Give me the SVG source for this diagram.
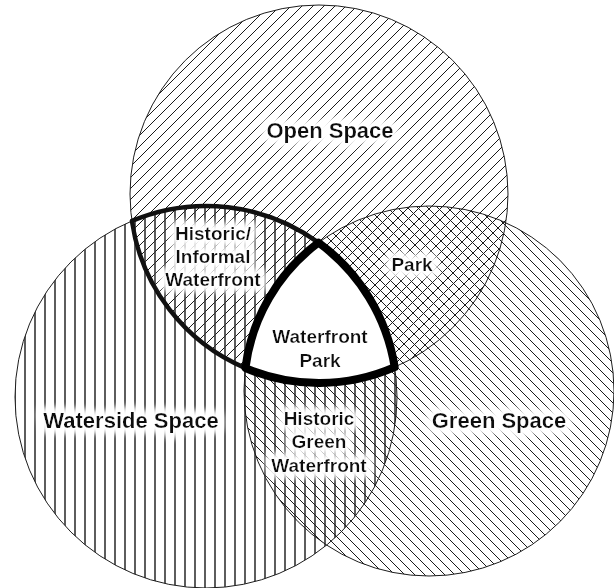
<svg xmlns="http://www.w3.org/2000/svg" width="614" height="588" viewBox="0 0 614 588">
  <defs>
    <!-- hatch fills for the three sets, tiles kept on whole pixels -->
    <pattern id="hatch-open" width="11" height="11" patternUnits="userSpaceOnUse">
      <path d="M0 11 L11 0 M-2 2 L2 -2 M9 13 L13 9" class="hl"/>
    </pattern>
    <pattern id="hatch-waterside" width="10" height="10" patternUnits="userSpaceOnUse">
      <line x1="5" y1="0" x2="5" y2="10" class="vl"/>
    </pattern>
    <pattern id="hatch-green" width="10" height="10" patternUnits="userSpaceOnUse">
      <path d="M0 0 L10 10 M-2 8 L2 12 M8 -2 L12 2" class="hl"/>
    </pattern>
    <!-- soft white halo behind labels -->
    <filter id="halo" x="-30%" y="-60%" width="160%" height="220%">
      <feMorphology in="SourceAlpha" operator="dilate" radius="3.5" result="d"/>
      <feGaussianBlur in="d" stdDeviation="3.5" result="b"/>
      <feFlood flood-color="#ffffff"/>
      <feComposite in2="b" operator="in" result="w"/>
      <feMerge>
        <feMergeNode in="w"/>
        <feMergeNode in="w"/>
        <feMergeNode in="SourceGraphic"/>
      </feMerge>
    </filter>
  </defs>
  <style>
    .hl { stroke: #1a1a1a; stroke-width: 1; fill: none; }
    .vl { stroke: #333333; stroke-width: 1.6; }
    .set { stroke: #1e1e1e; stroke-width: 1; }
    .big { font-family: "Liberation Sans", Arial, sans-serif; font-weight: bold; font-size: 22px; fill: #111; text-anchor: middle; filter: url(#halo); }
    .small { font-family: "Liberation Sans", Arial, sans-serif; font-weight: bold; font-size: 19px; fill: #111; text-anchor: middle; filter: url(#halo); }
  </style>

  <rect width="614" height="588" fill="#ffffff"/>

  <g id="open-space">
    <circle class="set" cx="319" cy="194" r="189" fill="url(#hatch-open)"/>
    <text class="big" x="330" y="138">Open Space</text>
  </g>

  <g id="waterside-space">
    <circle class="set" cx="206" cy="397" r="191" fill="url(#hatch-waterside)"/>
    <text class="big" x="131" y="428">Waterside Space</text>
  </g>

  <g id="green-space">
    <circle class="set" cx="429" cy="391" r="185" fill="url(#hatch-green)"/>
    <text class="big" x="499" y="428">Green Space</text>
  </g>

  <g id="historic-informal-waterfront">
    <path d="M131.93 220.94 A191 191 0 0 1 318.49 242.63 A185 185 0 0 0 245.43 368.08 A189 189 0 0 1 131.93 220.94 Z"
          fill="none" stroke="#111" stroke-width="4.5" stroke-linejoin="round"/>
    <text class="small" x="213" y="240">Historic/</text>
    <text class="small" x="213" y="263">Informal</text>
    <text class="small" x="213" y="286">Waterfront</text>
  </g>

  <g id="park">
    <text class="small" x="412" y="271">Park</text>
  </g>

  <g id="historic-green-waterfront">
    <text class="small" x="319" y="425">Historic</text>
    <text class="small" x="319" y="448">Green</text>
    <text class="small" x="319" y="472">Waterfront</text>
  </g>

  <g id="waterfront-park">
    <path d="M245.43 368.08 A185 185 0 0 1 318.49 242.63 A191 191 0 0 1 394.67 367.2 A189 189 0 0 1 245.43 368.08 Z"
          fill="#ffffff" stroke="#000" stroke-width="8" stroke-linejoin="round"/>
    <text class="small" x="320" y="343">Waterfront</text>
    <text class="small" x="320" y="367">Park</text>
  </g>
</svg>
